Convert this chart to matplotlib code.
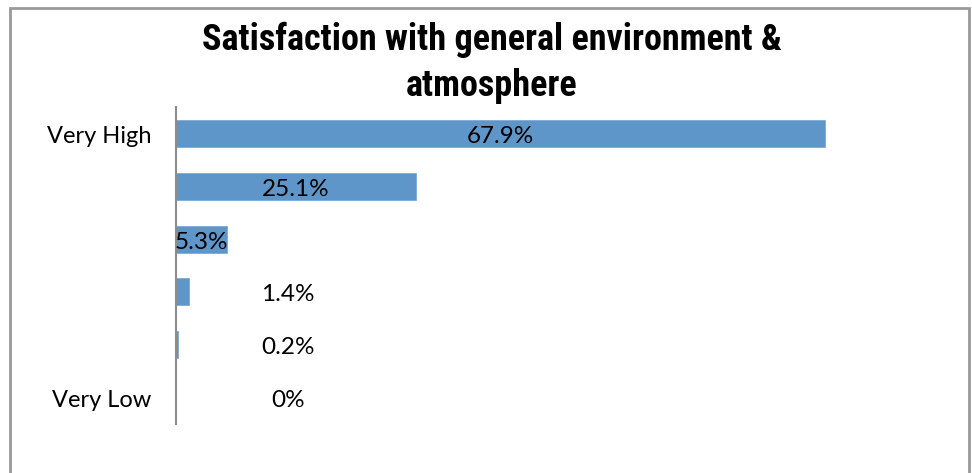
import matplotlib
matplotlib.use("Agg")
import matplotlib.pyplot as plt
from matplotlib import font_manager
from matplotlib.patches import Rectangle
from matplotlib.transforms import ScaledTranslation

# Satisfaction ratings (percent of respondents), top to bottom
categories = ["Very High", "High", "Moderate", "Low", "Somewhat Low", "Very Low"]
tick_labels = ["Very High", "", "", "", "", "Very Low"]
values = [67.9, 25.1, 5.3, 1.4, 0.2, 0.0]
value_labels = ["67.9%", "25.1%", "5.3%", "1.4%", "0.2%", "0%"]
title_lines = ["Satisfaction with general environment &", "atmosphere"]

W, H = 972, 473
fig = plt.figure(figsize=(W / 100, H / 100), dpi=100)
fig.patch.set_facecolor("white")

installed = {f.name for f in font_manager.fontManager.ttflist}
title_font = next((f for f in ["Liberation Sans Narrow", "Arial Narrow", "Roboto Condensed",
                               "Open Sans Condensed", "Roboto", "Liberation Sans"]
                   if f in installed), "DejaVu Sans")
body_font = ["Lato", "DejaVu Sans"]

ax = fig.add_axes([176 / W, 1 - 424 / H, (941 - 176) / W, (424 - 107) / H])

pos = list(range(len(categories)))[::-1]
bar_color = "#5f96ca"
ax.barh(pos, values, height=0.51, color=bar_color, edgecolor="#7faad6", linewidth=0.6)

ax.set_xlim(0, 80)
ax.set_ylim(-0.5, len(categories) - 0.5)
ax.set_xticks([])
ax.set_yticks([])

for side in ["top", "right", "bottom"]:
    ax.spines[side].set_visible(False)
ax.spines["left"].set_color("#8c8c8c")
ax.spines["left"].set_linewidth(1.5)

# Category labels, right-aligned left of the axis line
shift = ScaledTranslation(0, -3 / 100, fig.dpi_scale_trans)
ylab_trans = ax.get_yaxis_transform() + shift
for p, lab in zip(pos, tick_labels):
    if lab:
        ax.text(-25 / 765, p, lab, transform=ylab_trans, ha="right", va="center",
                fontsize=17, family=body_font, color="black")

# Value labels: centred on larger bars, set to the right of the small ones
for p, v, txt in zip(pos, values, value_labels):
    x = v / 2 if v >= 5 else 11.7
    ax.text(x, p, txt, ha="center", va="center", fontsize=17.5,
            family=body_font, color="black", transform=ax.transData + shift)

# Two-line bold title, sized so the first line spans ~581 px
t1 = fig.text(491.5 / W, 1 - 50 / H, title_lines[0], ha="center", va="baseline",
              fontsize=27, fontweight="bold", family=[title_font, "DejaVu Sans"])
fig.canvas.draw()
w = t1.get_window_extent().width
size = 27 * 581 / w
t1.set_fontsize(size)
fig.text(491.5 / W, 1 - 96 / H, title_lines[1], ha="center", va="baseline",
         fontsize=size, fontweight="bold", family=[title_font, "DejaVu Sans"])

# Chart frame
fig.patches.append(Rectangle((9.5 / W, -20 / H), (969 - 9.5) / W, (465 + 20) / H,
                             transform=fig.transFigure, fill=False,
                             edgecolor="#999999", linewidth=2, clip_on=False))

fig.savefig("out.png", dpi=100, facecolor="white")
